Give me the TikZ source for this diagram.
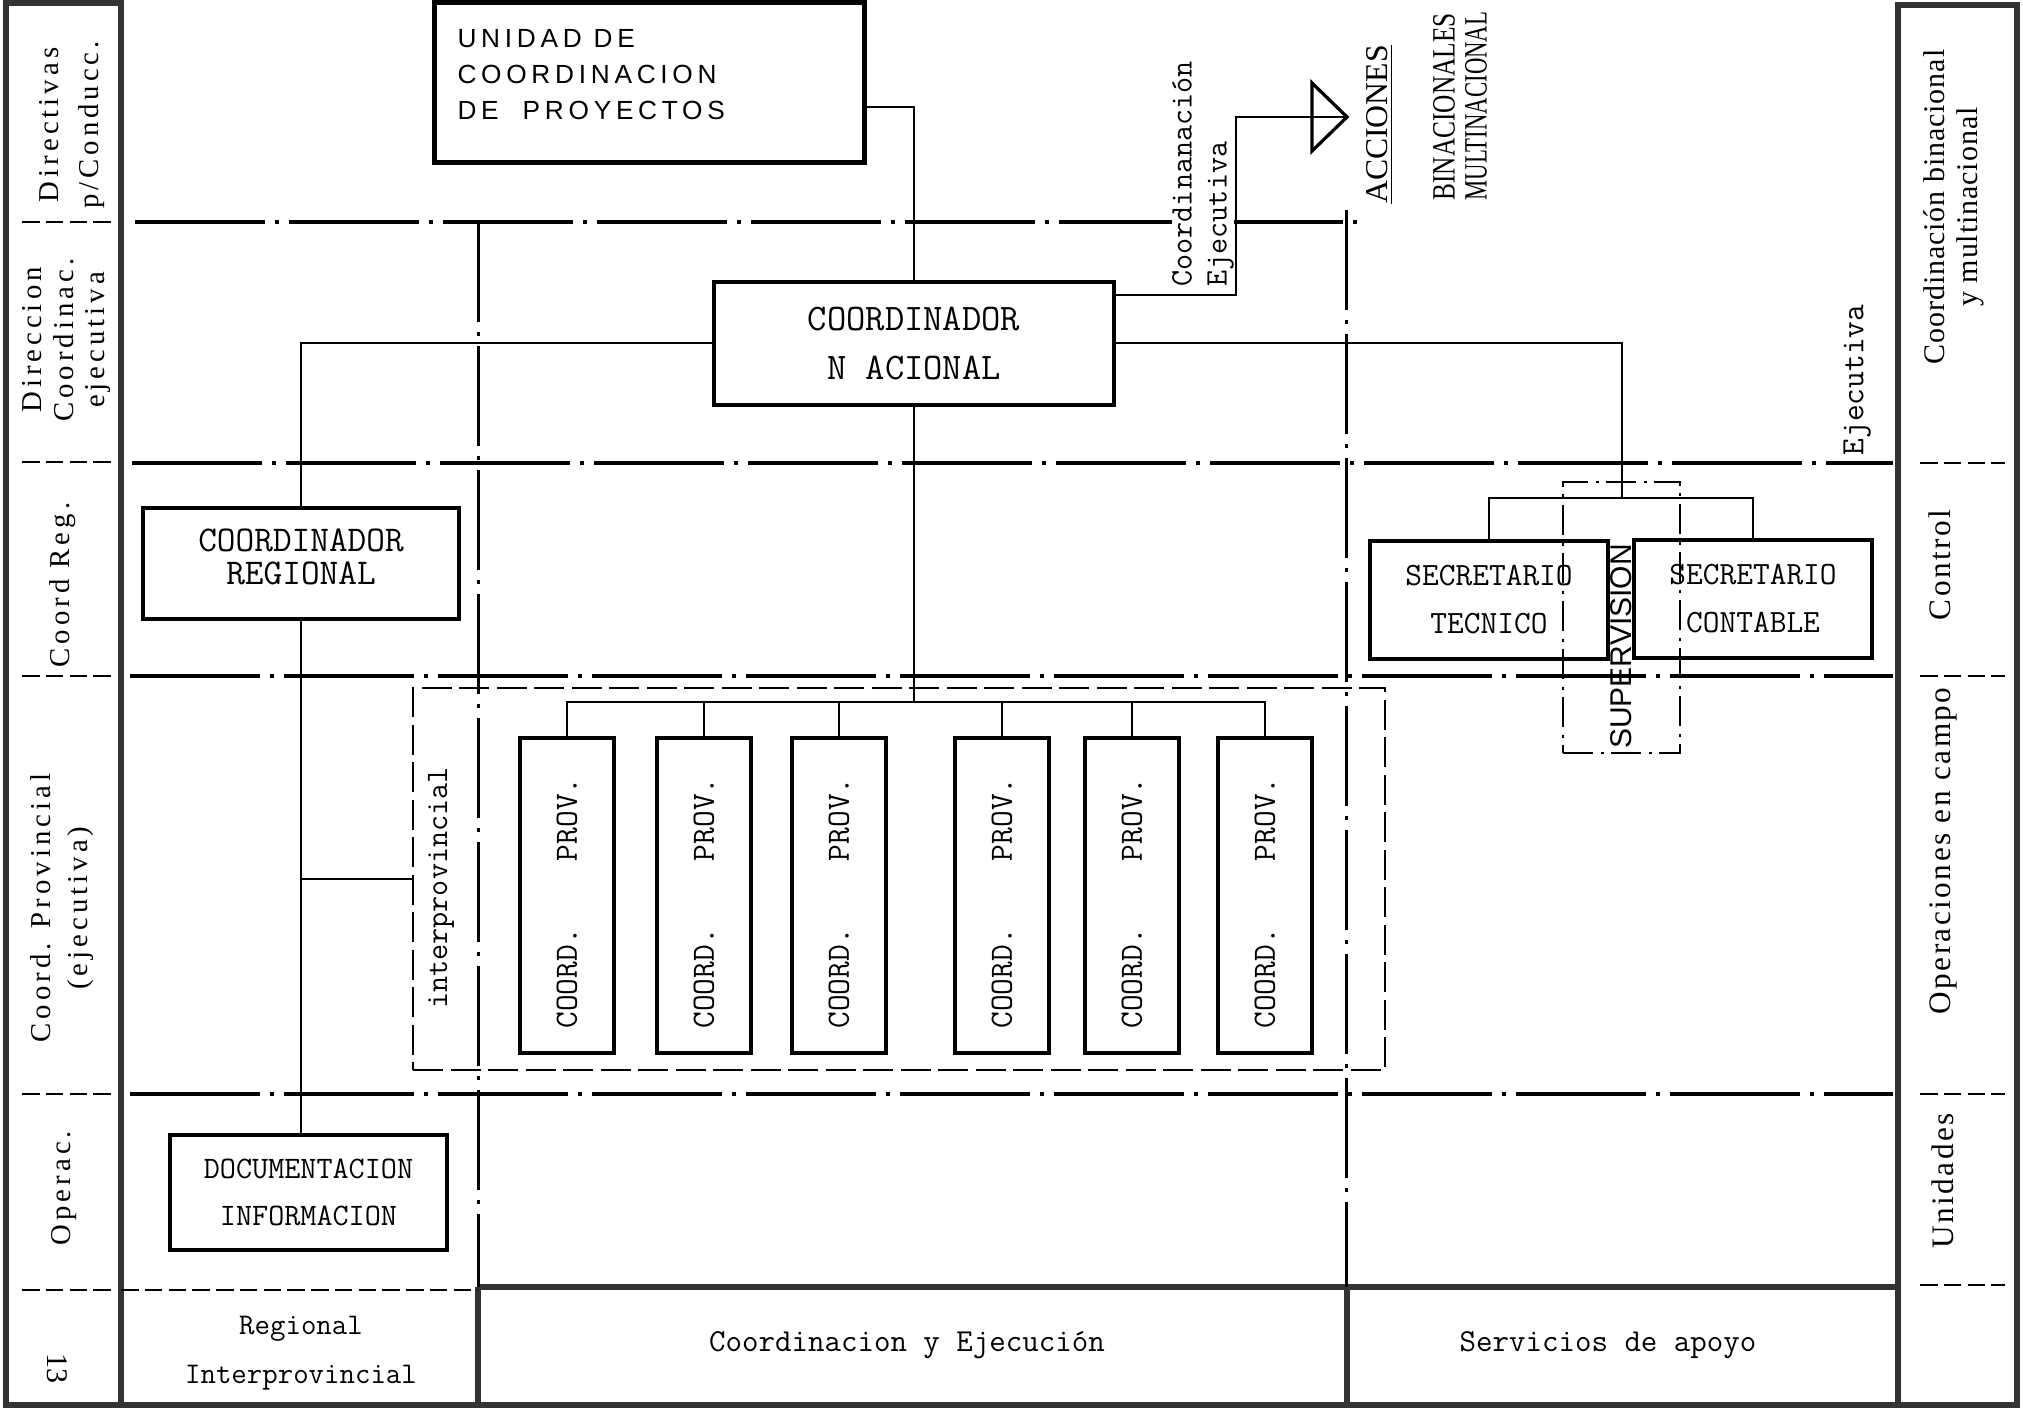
\documentclass[tikz,border=0pt]{standalone}
\usepackage{fontspec}
\usepackage{graphicx}
\newfontfamily\srf{Liberation Serif}
\newfontfamily\srfls[LetterSpace=14]{Liberation Serif}
\newfontfamily\srfrs[LetterSpace=8]{Liberation Serif}
\newfontfamily\srfrt[LetterSpace=3]{Liberation Serif}
\newfontfamily\sns{Liberation Sans}
\newfontfamily\snsls[LetterSpace=18]{Liberation Sans}
\begin{document}
\begin{tikzpicture}[x=0.4pt,y=-0.4pt,
  box/.style={draw, line width=1.5pt, inner sep=0pt, align=center},
  conn/.style={line width=0.8pt},
  hband/.style={line width=1.4pt, dash pattern=on 52pt off 4pt on 1.6pt off 4pt},
  vband/.style={line width=1.2pt, dash pattern=on 40pt off 4pt on 1.6pt off 4pt},
  frame/.style={line width=2.4pt, black!80},
  sepline/.style={line width=0.9pt, dash pattern=on 7pt off 2.5pt},
  striptxt/.style={rotate=90, inner sep=0pt, align=center},
]
\useasboundingbox (0,0) rectangle (2023,1411);

% ---- frames of the side strips and bottom band
\draw[frame] (6,3) rectangle (121,1405);
\draw[frame] (1898,5) rectangle (2017,1405);
\draw[frame] (121,1405) -- (1898,1405);
\draw[frame] (478,1287) -- (1898,1287);
\draw[frame] (478,1287) -- (478,1405);
\draw[frame] (1347,1287) -- (1347,1405);
\draw[sepline] (121,1290) -- (478,1290);
\foreach \yy in {222,462,676,1094,1290} \draw[sepline] (22,\yy) -- (112,\yy);
\foreach \yy in {463,676,1094,1285} \draw[sepline] (1920,\yy) -- (2005,\yy);

% ---- band lines
\draw[hband] (135,222) -- (1360,222);
\draw[hband] (132,463) -- (1893,463);
\draw[hband] (130,676) -- (1893,676);
\draw[hband] (130,1094) -- (1893,1094);
\draw[vband] (478,222) -- (478,1287);
\draw[vband] (1346,210) -- (1346,1287);

% ---- boxes
\node[box, line width=2pt, minimum width=172pt, minimum height=64pt] (unidad) at (649,83) {};
\node[anchor=west, inner sep=0pt, align=left, font=\fontsize{10.5}{14.4}\selectfont\snsls] (unidadtxt) at (457,75) {UNIDAD DE\\COORDINACION\\DE\ \ PROYECTOS};

\node[box, line width=1.8pt, minimum width=160pt, minimum height=49.2pt, font=\fontsize{15}{19.6}\selectfont\ttfamily] (cnac) at (914,343.5) {COORDINADOR\\N ACIONAL};

\node[box, line width=1.3pt, minimum width=126.4pt, minimum height=44.4pt, font=\fontsize{14.5}{13.2}\selectfont\ttfamily] (creg) at (301,563.5) {COORDINADOR\\REGIONAL\\[-8pt]};

\node[box, line width=1.3pt, minimum width=110.8pt, minimum height=46pt, font=\fontsize{12.5}{18.8}\selectfont\ttfamily] (doc) at (308.5,1192.5) {DOCUMENTACION\\INFORMACION};

\node[draw, line width=1.1pt, dash pattern=on 12pt off 3pt, minimum width=388.8pt, minimum height=152.8pt, inner sep=0pt] (ipbox) at (899,879) {};
\node[rotate=90, inner sep=0pt, font=\fontsize{12.5}{15}\selectfont\ttfamily] (iptxt) at (441,888) {interprovincial};

\foreach \i/\xx in {1/567,2/704,3/839,4/1002,5/1132,6/1265}
  \node[box, line width=1.6pt, minimum width=37.6pt, minimum height=126pt, font=\fontsize{13}{15}\selectfont\ttfamily] (p\i) at (\xx,895.5) {\rotatebox{90}{COORD.\ \ \ \ PROV.\hspace{6pt}}};

\node[box, line width=1.3pt, minimum width=95.2pt, minimum height=47.2pt, font=\fontsize{13}{19.2}\selectfont\ttfamily] (stec) at (1489,600) {SECRETARIO\\TECNICO};
\node[box, line width=1.3pt, minimum width=95.2pt, minimum height=47.2pt, font=\fontsize{13}{19.2}\selectfont\ttfamily] (scon) at (1753,599) {SECRETARIO\\CONTABLE};
\node[draw, line width=1.1pt, dash pattern=on 12pt off 3pt on 1.2pt off 3pt, minimum width=46.8pt, minimum height=108.4pt, inner sep=0pt] (supbox) at (1621.5,617.5) {};
\node[rotate=90, inner sep=0pt, font=\fontsize{12}{15}\selectfont\sns] (suptxt) at (1621,646.5) {SUPERVISION};

% ---- rotated labels at top
\node[rotate=90, anchor=west, inner sep=0pt, align=left, fill=white, font=\fontsize{12.5}{14}\selectfont\ttfamily] (coordej) at (1203,287) {Coordinanación\\Ejecutiva};
\node[rotate=90, inner sep=0pt, font=\fontsize{12.7}{15}\selectfont\srf] (acciones) at (1380,124.5) {\underline{ACCIONES}};
\node[rotate=90, anchor=west, inner sep=0pt, align=left, font=\fontsize{13}{12.8}\selectfont\srf] (binac) at (1460,201) {\scalebox{0.78}[1]{BINACIONALES}\\\scalebox{0.7}[1]{MULTINACIONAL}};
\node[rotate=90, inner sep=0pt, font=\fontsize{13}{15}\selectfont\ttfamily] (ejec) at (1857,380) {Ejecutiva};

% ---- connectors
\draw[conn] ([yshift=-9.6pt]unidad.east) -| (cnac.north);
\draw[conn] (cnac.west) -| (creg.north);
\draw[conn] (creg.south) -- (creg.south |- doc.north);
\draw[conn] (creg.south |- ipbox.west) -- (ipbox.west);
\coordinate (busP) at (914,702);
\draw[conn] (cnac.south) -- (busP);
\draw[conn] (p1.north) -- (p1.north |- busP) -- (p6.north |- busP) -- (p6.north);
\foreach \i in {2,...,5} \draw[conn] (p\i.north) -- (p\i.north |- busP);
\coordinate (busS) at (1622,498);
\draw[conn] (cnac.east) -| (busS);
\draw[conn] (stec.north) -- (stec.north |- busS) -- (scon.north |- busS) -- (scon.north);
\coordinate (ce) at (1236,117);
\coordinate (acc) at (1312,117);
\draw[conn] ([yshift=19.4pt]cnac.east) -| (ce) -- (acc) -- ++(35,0);
\draw[line width=1.3pt] (acc) -- ++(0,-34) -- ++(35,34) -- ++(-35,34) -- cycle;

% ---- left strip labels
\node[striptxt, font=\fontsize{11.5}{16}\selectfont\srfls] (s1) at (72,125) {Directivas\\p/Conducc.};
\node[striptxt, font=\fontsize{11.5}{12.6}\selectfont\srfls] (s2) at (67,340) {Direccion\\Coordinac.\\ejecutiva};
\node[striptxt, font=\fontsize{11.5}{14}\selectfont\srfls] (s3) at (63,585) {Coord Reg.};
\node[striptxt, font=\fontsize{11.5}{14.8}\selectfont\srfls] (s4) at (62.5,908) {Coord. Provincial\\(ejecutiva)};
\node[striptxt, font=\fontsize{11.5}{14}\selectfont\srfls] (s5) at (64,1188) {Operac.};
\node[rotate=-90, inner sep=0pt, font=\fontsize{12}{14}\selectfont\srf] (s6) at (57,1368) {13};

% ---- right strip labels
\node[striptxt, font=\fontsize{12}{13.2}\selectfont\srfrt] (r1) at (1953.5,207) {Coordinación binacional\\y multinacional};
\node[striptxt, font=\fontsize{12.5}{14}\selectfont\srfrs] (r2) at (1940,565) {Control};
\node[striptxt, font=\fontsize{12.5}{14}\selectfont\srfrs] (r3) at (1943,851) {Operaciones en campo};
\node[striptxt, font=\fontsize{12.5}{14}\selectfont\srfrs] (r4) at (1943,1181) {Unidades};

% ---- bottom band labels
\node[inner sep=0pt, align=center, font=\fontsize{12}{19.6}\selectfont\ttfamily] (b1) at (301,1353) {Regional\\Interprovincial};
\node[inner sep=0pt, font=\fontsize{12.8}{15}\selectfont\ttfamily] (b2) at (907,1345) {Coordinacion y Ejecución};
\node[inner sep=0pt, font=\fontsize{12.8}{15}\selectfont\ttfamily] (b3) at (1608,1345) {Servicios de apoyo};
\end{tikzpicture}
\end{document}
